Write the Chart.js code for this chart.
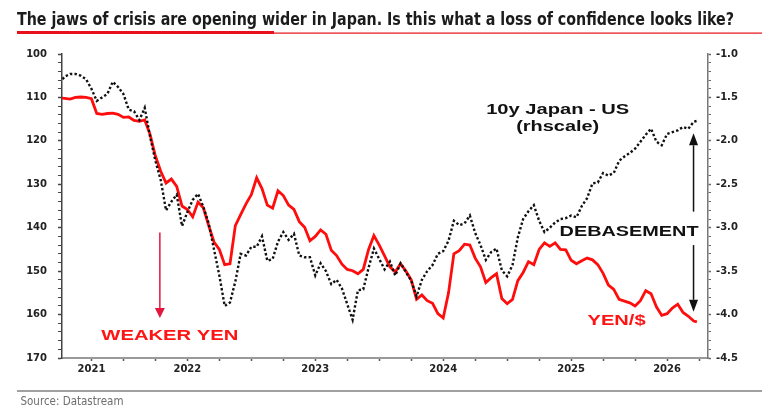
<!DOCTYPE html>
<html>
<head>
<meta charset="utf-8">
<script src="https://cdn.jsdelivr.net/npm/chart.js@4.4.1/dist/chart.umd.min.js"></script>
<style>
  html, body { margin: 0; padding: 0; background: #fff; }
  canvas { display: block; }
</style>
</head>
<body>
<canvas id="chart" width="779" height="411"></canvas>
<script>
// semi-monthly observations
const dates = [
  '2021-07-01','2021-07-16','2021-08-01','2021-08-16','2021-09-01','2021-09-16','2021-10-01','2021-10-16','2021-11-01','2021-11-16','2021-12-01','2021-12-16',
  '2022-01-01','2022-01-16','2022-02-01','2022-02-16','2022-03-01','2022-03-16','2022-04-01','2022-04-16','2022-05-01','2022-05-16','2022-06-01','2022-06-16',
  '2022-07-01','2022-07-16','2022-08-01','2022-08-16','2022-09-01','2022-09-16','2022-10-01','2022-10-16','2022-11-01','2022-11-16','2022-12-01','2022-12-16',
  '2023-01-01','2023-01-16','2023-02-01','2023-02-16','2023-03-01','2023-03-16','2023-04-01','2023-04-16','2023-05-01','2023-05-16','2023-06-01','2023-06-16',
  '2023-07-01','2023-07-16','2023-08-01','2023-08-16','2023-09-01','2023-09-16','2023-10-01','2023-10-16','2023-11-01','2023-11-16','2023-12-01','2023-12-16',
  '2024-01-01','2024-01-16','2024-02-01','2024-02-16','2024-03-01','2024-03-16','2024-04-01','2024-04-16','2024-05-01','2024-05-16','2024-06-01','2024-06-16',
  '2024-07-01','2024-07-16','2024-08-01','2024-08-16','2024-09-01','2024-09-16','2024-10-01','2024-10-16','2024-11-01','2024-11-16','2024-12-01','2024-12-16',
  '2025-01-01','2025-01-16','2025-02-01','2025-02-16','2025-03-01','2025-03-16','2025-04-01','2025-04-16','2025-05-01','2025-05-16','2025-06-01','2025-06-16',
  '2025-07-01','2025-07-16','2025-08-01','2025-08-16','2025-09-01','2025-09-16','2025-10-01','2025-10-16','2025-11-01','2025-11-16','2025-12-01','2025-12-16',
  '2026-01-01','2026-01-16','2026-02-01','2026-02-16','2026-03-01','2026-03-16','2026-04-01','2026-04-16','2026-05-01','2026-05-16','2026-06-01','2026-06-16',
  '2026-06-25'
];

// YEN/$ (lhs, inverted)
const yenPerDollar = [
  110.1, 110.2, 110.4, 110.0, 109.9, 110.0, 110.3, 113.7, 113.9, 113.7, 113.6, 113.9,
  114.6, 114.5, 115.3, 115.5, 115.2, 118.5, 123.5, 127.0, 129.7, 128.8, 130.5, 135.0,
  135.8, 137.5, 134.1, 135.4, 139.5, 143.3, 145.0, 148.5, 148.3, 139.5, 137.0, 134.5,
  132.4, 128.5, 131.0, 134.8, 135.5, 131.5, 132.6, 134.8, 135.8, 138.6, 139.9, 143.0,
  142.0, 140.5, 141.5, 145.2, 146.4, 148.4, 149.6, 149.9, 150.6, 149.6, 145.0, 141.8,
  144.0, 146.5, 149.0, 150.2, 148.3, 150.0, 152.0, 156.5, 155.5, 156.8, 157.4, 159.8,
  160.8, 155.0, 146.0, 145.3, 143.8, 144.0, 147.0, 149.0, 152.6, 151.5, 150.6, 156.3,
  157.5, 156.5, 152.2, 150.3, 147.8, 148.5, 145.0, 143.5, 144.3, 143.5, 145.0, 145.1,
  147.5, 148.3, 147.6, 147.0, 147.4, 148.5, 150.5, 153.2, 154.2, 156.5, 156.9, 157.3,
  158.0, 156.8, 154.5, 155.2, 158.2, 160.2, 159.8, 158.5, 157.6, 159.5, 160.4, 161.5,
  161.7
];

// 10y Japan - US yield spread (rhs)
const spreadJpUs = [
  -1.33, -1.26, -1.23, -1.23, -1.25, -1.29, -1.40, -1.54, -1.50, -1.46, -1.32, -1.38,
  -1.46, -1.64, -1.66, -1.76, -1.62, -1.95, -2.23, -2.45, -2.80, -2.70, -2.62, -2.98,
  -2.82, -2.68, -2.61, -2.76, -2.95, -3.25, -3.55, -3.90, -3.86, -3.62, -3.30, -3.32,
  -3.22, -3.22, -3.10, -3.38, -3.36, -3.16, -3.05, -3.14, -3.07, -3.32, -3.34, -3.34,
  -3.55, -3.41, -3.50, -3.65, -3.60, -3.70, -3.88, -4.06, -3.72, -3.71, -3.46, -3.24,
  -3.36, -3.48, -3.39, -3.55, -3.41, -3.51, -3.61, -3.79, -3.60, -3.50, -3.43, -3.30,
  -3.27, -3.15, -2.92, -2.97, -2.95, -2.86, -3.06, -3.20, -3.37, -3.28, -3.24, -3.49,
  -3.56, -3.43, -3.11, -2.90, -2.81, -2.74, -2.92, -3.05, -3.00, -2.94, -2.90, -2.89,
  -2.86, -2.88, -2.75, -2.66, -2.49, -2.48, -2.37, -2.40, -2.37, -2.23, -2.18, -2.14,
  -2.09, -2.01, -1.93, -1.86, -2.01, -2.05, -1.92, -1.90, -1.88, -1.84, -1.86, -1.78,
  -1.77
];

// x axis: quarterly tick marks, year labels
const quarterTicks = [2021.75, 2022, 2022.25, 2022.5, 2022.75, 2023, 2023.25, 2023.5, 2023.75,
  2024, 2024.25, 2024.5, 2024.75, 2025, 2025.25, 2025.5, 2025.75, 2026, 2026.25, 2026.5];
const yearLabels = ['2021', '2022', '2023', '2024', '2025', '2026'];
const yearLabelAt = [2021.75, 2022.5, 2023.5, 2024.5, 2025.5, 2026.25];

const X_MIN = 2021.52, X_MAX = 2026.57;

function toYear(s) {
  const [y, m, d] = s.split('-').map(Number);
  return y + (m - 1) / 12 + (d - 1) / 360;
}

const tickFont = { family: '"DejaVu Sans", sans-serif', weight: 'bold', size: 10 };

// draw text squeezed/stretched to a given width
function fitText(ctx, text, x, y, width, font, color, align) {
  ctx.save();
  ctx.font = font;
  const w = ctx.measureText(text).width;
  ctx.translate(x, y);
  ctx.scale(width / w, 1);
  ctx.fillStyle = color;
  ctx.textAlign = align || 'left';
  ctx.fillText(text, 0, 0);
  ctx.restore();
}

function arrow(ctx, x, yFrom, yTo, color, lw, headW, headH) {
  const dir = yTo > yFrom ? 1 : -1;
  ctx.save();
  ctx.strokeStyle = color;
  ctx.fillStyle = color;
  ctx.lineWidth = lw;
  ctx.beginPath();
  ctx.moveTo(x, yFrom);
  ctx.lineTo(x, yTo - dir * headH);
  ctx.stroke();
  ctx.beginPath();
  ctx.moveTo(x, yTo);
  ctx.lineTo(x - headW / 2, yTo - dir * headH);
  ctx.lineTo(x + headW / 2, yTo - dir * headH);
  ctx.closePath();
  ctx.fill();
  ctx.restore();
}

// title, source line, background
const framePlugin = {
  id: 'frame',
  beforeDraw(chart) {
    const ctx = chart.ctx;
    ctx.save();
    ctx.fillStyle = '#fff';
    ctx.fillRect(0, 0, chart.width, chart.height);

    ctx.textBaseline = 'alphabetic';
    fitText(ctx, 'The jaws of crisis are opening wider in Japan. Is this what a loss of confidence looks like?',
      17, 25, 717, 'bold 17px "Liberation Sans Narrow", "DejaVu Sans Condensed", sans-serif', '#1b1b1b');

    ctx.fillStyle = '#e8101a';
    ctx.fillRect(17, 31, 257, 3);
    ctx.fillRect(274, 32.5, 488, 1.2);

    ctx.fillStyle = '#a0a0a0';
    ctx.fillRect(17, 390, 745, 2);
    fitText(ctx, 'Source: Datastream', 20.5, 405, 103,
      '12px "Liberation Sans Narrow", "DejaVu Sans Condensed", sans-serif', '#6e6e6e');
    ctx.restore();
  }
};

// annotations placed in data coordinates
const notesPlugin = {
  id: 'notes',
  afterDatasetsDraw(chart) {
    const ctx = chart.ctx;
    const xs = chart.scales.x, yl = chart.scales.yLeft, yr = chart.scales.yRight;
    const bold = 'bold 14px "Liberation Sans", Arial, sans-serif';
    ctx.save();
    ctx.textBaseline = 'middle';

    fitText(ctx, 'WEAKER YEN', xs.getPixelForValue(2022.363), yl.getPixelForValue(164.9), 137, bold, '#ff1414', 'center');
    arrow(ctx, xs.getPixelForValue(2022.285), yl.getPixelForValue(141.1), yl.getPixelForValue(160.8), '#e2173f', 1.5, 10, 10);

    fitText(ctx, '10y Japan - US', xs.getPixelForValue(2025.395), yr.getPixelForValue(-1.645), 143, bold, '#111', 'center');
    fitText(ctx, '(rhscale)', xs.getPixelForValue(2025.395), yr.getPixelForValue(-1.837), 83, bold, '#111', 'center');

    fitText(ctx, 'DEBASEMENT', xs.getPixelForValue(2025.953), yr.getPixelForValue(-3.046), 139, bold, '#111', 'center');
    const ax = xs.getPixelForValue(2026.457);
    arrow(ctx, ax, yr.getPixelForValue(-2.815), yr.getPixelForValue(-1.913), '#111', 1.5, 9, 12);
    arrow(ctx, ax, yr.getPixelForValue(-3.20), yr.getPixelForValue(-3.967), '#111', 1.5, 9, 12);

    fitText(ctx, 'YEN/$', xs.getPixelForValue(2025.855), yr.getPixelForValue(-4.08), 58, bold, '#ff1414', 'center');
    ctx.restore();
  }
};

new Chart(document.getElementById('chart'), {
  type: 'line',
  data: {
    datasets: [
      {
        label: '10y Japan - US',
        data: dates.map((d, i) => ({ x: toYear(d), y: spreadJpUs[i] })),
        yAxisID: 'yRight',
        borderColor: '#111',
        borderWidth: 2.4,
        borderDash: [2.4, 2.2],
        pointRadius: 0,
        tension: 0
      },
      {
        label: 'YEN/$',
        data: dates.map((d, i) => ({ x: toYear(d), y: yenPerDollar[i] })),
        yAxisID: 'yLeft',
        borderColor: '#ff0d0d',
        borderWidth: 2.8,
        pointRadius: 0,
        tension: 0
      }
    ]
  },
  options: {
    responsive: false,
    animation: false,
    devicePixelRatio: 1,
    layout: { padding: { top: 54, left: 0, right: 0, bottom: 0 } },
    plugins: { legend: { display: false }, tooltip: { enabled: false } },
    scales: {
      x: {
        type: 'linear',
        min: X_MIN,
        max: X_MAX,
        afterFit(s) { s.height = 53; },
        afterBuildTicks(s) { s.ticks = quarterTicks.map(v => ({ value: v })); },
        grid: { drawOnChartArea: false, drawTicks: true, tickLength: 3, tickColor: '#555', tickWidth: 1.5 },
        border: { color: '#9a9a9a', width: 2 },
        ticks: {
          autoSkip: false,
          maxRotation: 0,
          padding: 2,
          color: '#222',
          font: tickFont,
          callback(v) {
            const k = yearLabelAt.findIndex(a => Math.abs(a - v) < 0.01);
            return k >= 0 ? yearLabels[k] : '';
          }
        }
      },
      yLeft: {
        position: 'left',
        reverse: true,
        min: 100,
        max: 170,
        afterFit(s) { s.width = 62; },
        grid: { drawOnChartArea: false, tickLength: 4, tickColor: '#444', tickWidth: c => (c.tick && c.tick.value % 10 === 0 ? 1.5 : 1) },
        border: { color: '#444', width: 1.5 },
        ticks: {
          stepSize: 2,
          autoSkip: false,
          padding: 11,
          color: '#222',
          font: tickFont,
          callback: v => (v % 10 === 0 ? String(v) : '')
        }
      },
      yRight: {
        position: 'right',
        min: -4.5,
        max: -1.0,
        afterFit(s) { s.width = 71; },
        grid: { drawOnChartArea: false, tickLength: 3, tickColor: '#666', tickWidth: c => (c.tick && Math.round(c.tick.value * 10) % 5 === 0 ? 1.5 : 1) },
        border: { color: '#777', width: 1.5 },
        ticks: {
          stepSize: 0.1,
          autoSkip: false,
          padding: 5,
          color: '#222',
          font: tickFont,
          callback: v => (Math.round(v * 10) % 5 === 0 ? v.toFixed(1) : '')
        }
      }
    }
  },
  plugins: [framePlugin, notesPlugin]
});
</script>
</body>
</html>
